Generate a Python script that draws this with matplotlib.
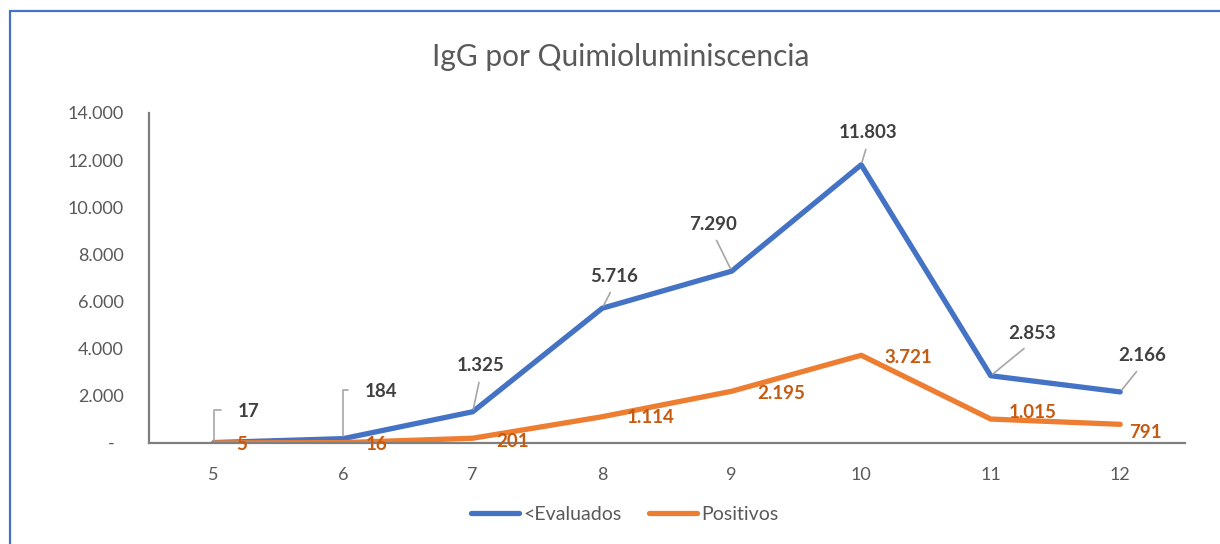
import matplotlib
matplotlib.use("Agg")
import matplotlib.pyplot as plt
from matplotlib.patches import Rectangle
from matplotlib.ticker import FuncFormatter

## DONNEES ##
meses = [5, 6, 7, 8, 9, 10, 11, 12]
evaluados = [17, 184, 1325, 5716, 7290, 11803, 2853, 2166]
positivos = [5, 16, 201, 1114, 2195, 3721, 1015, 791]

# décalage des étiquettes (pixels)
off_eval = [(35, 31), (38, 47), (8, 46), (12, 32), (-19, 47), (7, 32), (41, 42), (22, 36)]
off_pos = [(28, -2), (33, -2), (40, -3), (48, -1), (49, -2), (47, -2), (42, 7), (25, -8)]

azul = "#4472C4"
naranja = "#ED7D31"
gris = "#595959"

plt.rcParams['font.family'] = ['Lato', 'DejaVu Sans']

fig = plt.figure(figsize=(12.2, 5.44), dpi=100)
ax = fig.add_axes([0.1221, 0.1857, 0.8492, 0.6066])

# bordure bleue (haut et gauche)
fig.patches.append(Rectangle((10 / 1220, -0.1), 1.2, 0.1 + (544 - 11) / 544,
                             transform=fig.transFigure, fill=False,
                             edgecolor=azul, lw=1.6))

ax.plot(meses, evaluados, color=azul, lw=3.8, label="<Evaluados", solid_capstyle='round')
ax.plot(meses, positivos, color=naranja, lw=3.8, label="Positivos", solid_capstyle='round')

ax.set_xlim(4.5, 12.5)
ax.set_ylim(0, 14000)
ax.set_xticks(meses)
ax.set_yticks(range(0, 14001, 2000))
ax.yaxis.set_major_formatter(FuncFormatter(
    lambda v, p: '-  ' if v == 0 else f"{int(v):,}".replace(',', '.')))
ax.tick_params(length=0, labelsize=13, labelcolor=gris)
ax.tick_params(axis='x', pad=17)
ax.tick_params(axis='y', pad=18)

for s in ['top', 'right']:
    ax.spines[s].set_visible(False)
for s in ['left', 'bottom']:
    ax.spines[s].set_color("#7F7F7F")
    ax.spines[s].set_linewidth(1.6)

# étiquettes bleues avec lignes de rappel
for i, (m, v) in enumerate(zip(meses, evaluados)):
    txt = f"{v:,}".replace(',', '.')
    if i < 2:
        props = dict(arrowstyle='-', color="#A6A6A6", lw=1.2, shrinkA=10, shrinkB=2,
                     relpos=(0, 0.6), connectionstyle="angle,angleA=0,angleB=90,rad=0")
    else:
        props = dict(arrowstyle='-', color="#A6A6A6", lw=1.2, shrinkA=4, shrinkB=2,
                     relpos=(0.5, 0))
    ax.annotate(txt, (m, v), xytext=off_eval[i], textcoords='offset pixels',
                ha='center', va='center', fontsize=13.5, fontweight='bold',
                color="#404040", arrowprops=props)

# étiquettes oranges
for i, (m, v) in enumerate(zip(meses, positivos)):
    txt = f"{v:,}".replace(',', '.')
    ax.annotate(txt, (m, v), xytext=off_pos[i], textcoords='offset pixels',
                ha='center', va='center', fontsize=13.5, fontweight='bold',
                color="#C55A11")

fig.text(0.509, 0.895, "IgG por Quimioluminiscencia", ha='center', va='center',
         fontsize=21.5, color=gris)

fig.legend(loc='center', bbox_to_anchor=(0.512, 0.055), ncol=2, frameon=False,
           fontsize=14, labelcolor=gris, handlelength=2.5, handletextpad=0.2,
           columnspacing=1.4)

fig.savefig("out.png", dpi=100)
